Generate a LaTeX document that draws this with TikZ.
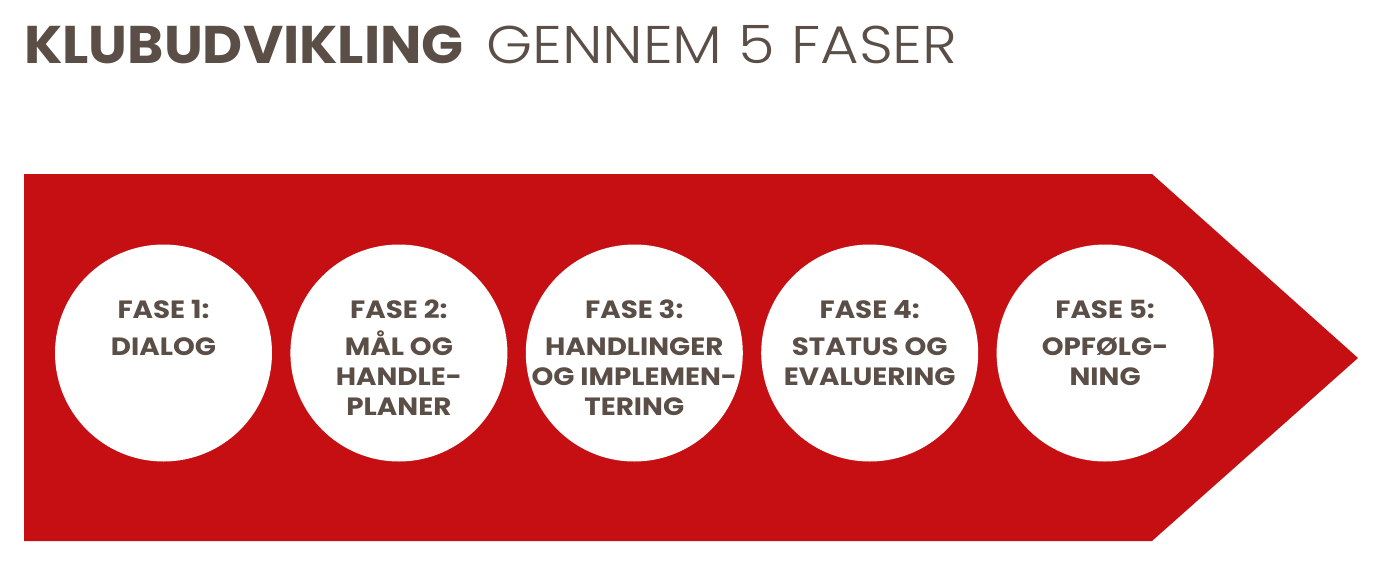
\documentclass[tikz,border=0pt]{standalone}
\usepackage{fontspec}
\setmainfont{Poppins}
\newfontfamily\titleboldfont{Poppins}[FakeStretch=1.04]
\newfontfamily\titlelightfont{Poppins Light}[FakeStretch=1.115]
\newfontfamily\phasefont{Poppins}[FakeStretch=1.11]
\usetikzlibrary{positioning}

\definecolor{phasered}{HTML}{C60F12}
\definecolor{phasetext}{HTML}{5A4E47}

\tikzset{
    phase/.style={circle, fill=white, minimum size=217pt, inner sep=0pt},
    phasetext/.style={anchor=north, inner sep=0pt, align=center, text=phasetext,
        font=\phasefont\bfseries\fontsize{25pt}{30pt}\selectfont},
    titletext/.style={anchor=base west, inner sep=0pt, text=phasetext},
}

\begin{document}
\begin{tikzpicture}[x=1pt, y=-1pt]

    % Fix the page to the size of the reference
    \useasboundingbox (0,0) rectangle (1384,573);

    % Title, bold part and light part
    \node[titletext, font=\titleboldfont\bfseries\fontsize{53pt}{60pt}\selectfont] (titlebold) at (24,63) {KLUBUDVIKLING};
    \node[titletext, font=\titlelightfont\fontsize{53pt}{60pt}\selectfont] (titlelight) at (486,63) {GENNEM 5 FASER};

    % The big red arrow
    \fill[phasered] (24,174) -- (1152,174) -- (1358,358) -- (1152,541) -- (24,541) -- cycle;

    % The five phases
    \node[phase] (c1) at (163.5,353) {};
    \node[phase, right=18pt of c1] (c2) {};
    \node[phase, right=18pt of c2] (c3) {};
    \node[phase, right=18pt of c3] (c4) {};
    \node[phase, right=18pt of c4] (c5) {};

    % Texts in the circles
    \node[phasetext] (t1) at ([yshift=53pt]c1.center) {FASE 1:\\[7pt] DIALOG};
    \node[phasetext] (t2) at ([yshift=53pt]c2.center) {FASE 2:\\[7pt] MÅL OG\\ HANDLE-\\ PLANER};
    \node[phasetext] (t3) at ([yshift=53pt]c3.center) {FASE 3:\\[7pt] HANDLINGER\\ OG IMPLEMEN-\\ TERING};
    \node[phasetext] (t4) at ([yshift=53pt]c4.center) {FASE 4:\\[7pt] STATUS OG\\ EVALUERING};
    \node[phasetext] (t5) at ([yshift=53pt]c5.center) {FASE 5:\\[7pt] OPFØLG-\\ NING};

\end{tikzpicture}
\end{document}
